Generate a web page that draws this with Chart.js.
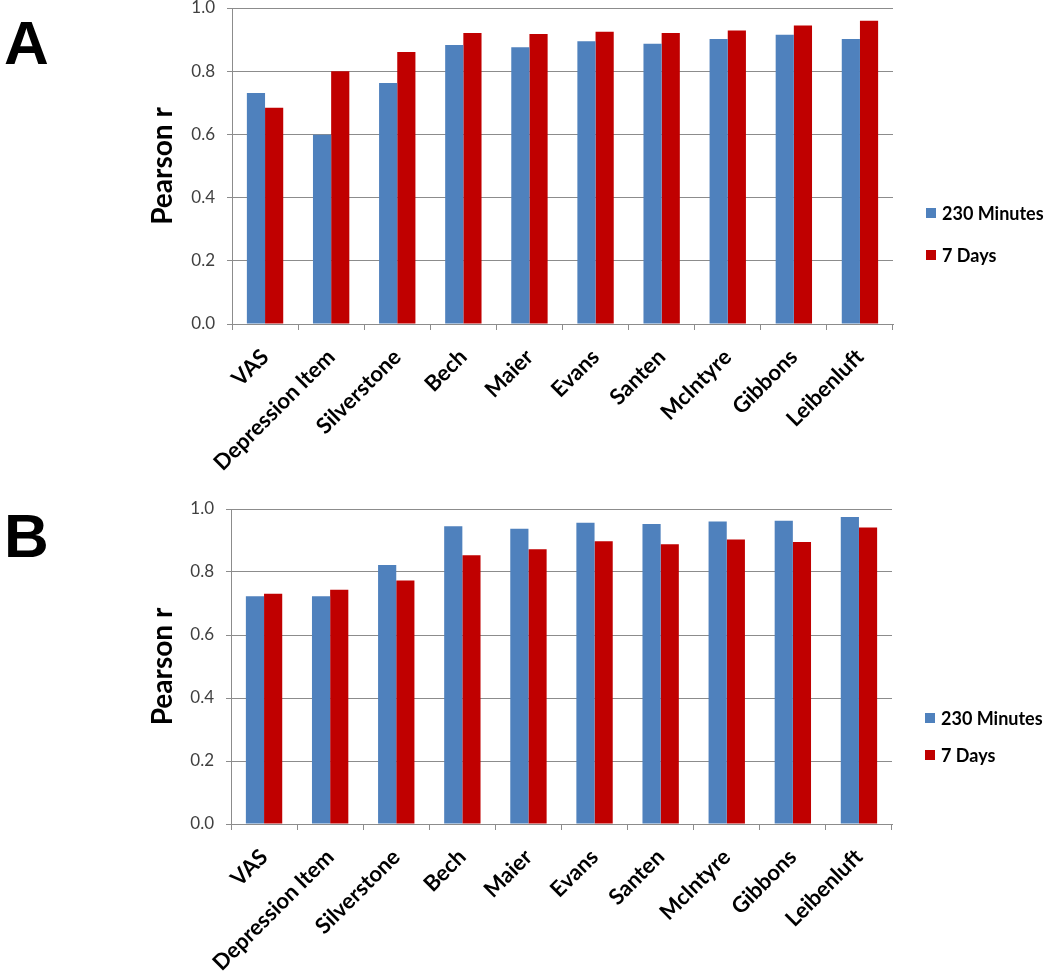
<!DOCTYPE html>
<html lang="en">
<head>
    <meta charset="UTF-8">
    <title>Pearson r by scale</title>
    <script src="https://cdn.jsdelivr.net/npm/chart.js"></script>
    <style>
        body { margin: 0; background: #fff; width: 1050px; height: 971px; position: relative; overflow: hidden; }
        .panel-letter { position: absolute; left: 4px; font: bold 62px "Liberation Sans", Arial, sans-serif; line-height: 1; color: #000; }
        .chart-box { position: absolute; left: 0; width: 1050px; }
    </style>
</head>
<body>
    <div class="panel-letter" style="top: 12px;">A</div>
    <div class="chart-box" style="top: 0; height: 480px;"><canvas id="chartA"></canvas></div>

    <div class="panel-letter" style="top: 505px;">B</div>
    <div class="chart-box" style="top: 500px; height: 471px;"><canvas id="chartB"></canvas></div>

    <script>
        const categories = ['VAS', 'Depression Item', 'Silverstone', 'Bech', 'Maier', 'Evans', 'Santen', 'McIntyre', 'Gibbons', 'Leibenluft'];
        const seriesLabels = ['230 Minutes', '7 Days'];

        const panelA_230min = [0.731, 0.599, 0.763, 0.883, 0.876, 0.895, 0.887, 0.902, 0.915, 0.902];
        const panelA_7days  = [0.684, 0.800, 0.861, 0.921, 0.918, 0.925, 0.921, 0.929, 0.945, 0.960];

        const panelB_230min = [0.723, 0.723, 0.822, 0.945, 0.937, 0.956, 0.952, 0.960, 0.963, 0.975];
        const panelB_7days  = [0.731, 0.744, 0.773, 0.853, 0.872, 0.898, 0.888, 0.903, 0.895, 0.941];

        const yMin = 0, yMax = 1, yStep = 0.2;

        const BLUE = '#4f81bd';
        const RED = '#c00000';
        const GRID = '#8c8c8c';

        // legend drawn beside the plot, like the Excel original
        const sideLegend = {
            id: 'sideLegend',
            afterDraw(chart, args, opts) {
                const ctx = chart.ctx;
                ctx.save();
                ctx.font = 'bold 18px Lato';
                ctx.textBaseline = 'middle';
                chart.data.datasets.forEach((ds, i) => {
                    const y = opts.y[i];
                    ctx.fillStyle = ds.backgroundColor;
                    ctx.fillRect(opts.x, y - 5, 10, 10);
                    ctx.fillStyle = '#000';
                    ctx.fillText(ds.label, opts.x + 16, y + 1);
                });
                ctx.restore();
            }
        };

        function makeChart(id, blue, red, o) {
            return new Chart(document.getElementById(id), {
                type: 'bar',
                data: {
                    labels: categories,
                    datasets: [
                        { label: seriesLabels[0], data: blue, backgroundColor: BLUE },
                        { label: seriesLabels[1], data: red, backgroundColor: RED }
                    ]
                },
                options: {
                    responsive: true,
                    maintainAspectRatio: false,
                    animation: false,
                    events: [],
                    layout: { padding: { left: 140, right: o.right, top: o.top, bottom: 0 } },
                    datasets: { bar: { categoryPercentage: 0.55, barPercentage: 1 } },
                    plugins: {
                        legend: { display: false },
                        tooltip: { enabled: false },
                        sideLegend: { x: o.legendX, y: o.legendY }
                    },
                    scales: {
                        x: {
                            afterFit: s => { s.height = o.xHeight; },
                            grid: { offset: true, drawOnChartArea: false, drawTicks: true, tickLength: 6, color: GRID },
                            border: { color: GRID },
                            ticks: {
                                autoSkip: false, minRotation: 45, maxRotation: 45, padding: 14,
                                color: '#000', font: { family: 'Lato', weight: 'bold', size: 22 }
                            }
                        },
                        y: {
                            min: yMin, max: yMax,
                            afterFit: s => { s.width = o.yWidth; s.paddingTop = 0; s.paddingBottom = 0; },
                            grid: { color: GRID, tickLength: 5 },
                            border: { color: GRID },
                            ticks: {
                                stepSize: yStep, padding: 12, color: '#404040',
                                font: { family: 'Lato', size: 17 },
                                callback: v => Number(v).toFixed(1)
                            },
                            title: {
                                display: true, text: 'Pearson r', color: '#000',
                                font: { family: 'Lato', weight: 'bold', size: 28 },
                                padding: { top: 6, bottom: 0 }
                            }
                        }
                    }
                },
                plugins: [sideLegend]
            });
        }

        makeChart('chartA', panelA_230min, panelA_7days,
            { right: 157, top: 8, xHeight: 156, yWidth: 92, legendX: 926, legendY: [213, 255] });
        makeChart('chartB', panelB_230min, panelB_7days,
            { right: 158, top: 9, xHeight: 147, yWidth: 91, legendX: 925, legendY: [218, 255] });
    </script>
</body>
</html>
